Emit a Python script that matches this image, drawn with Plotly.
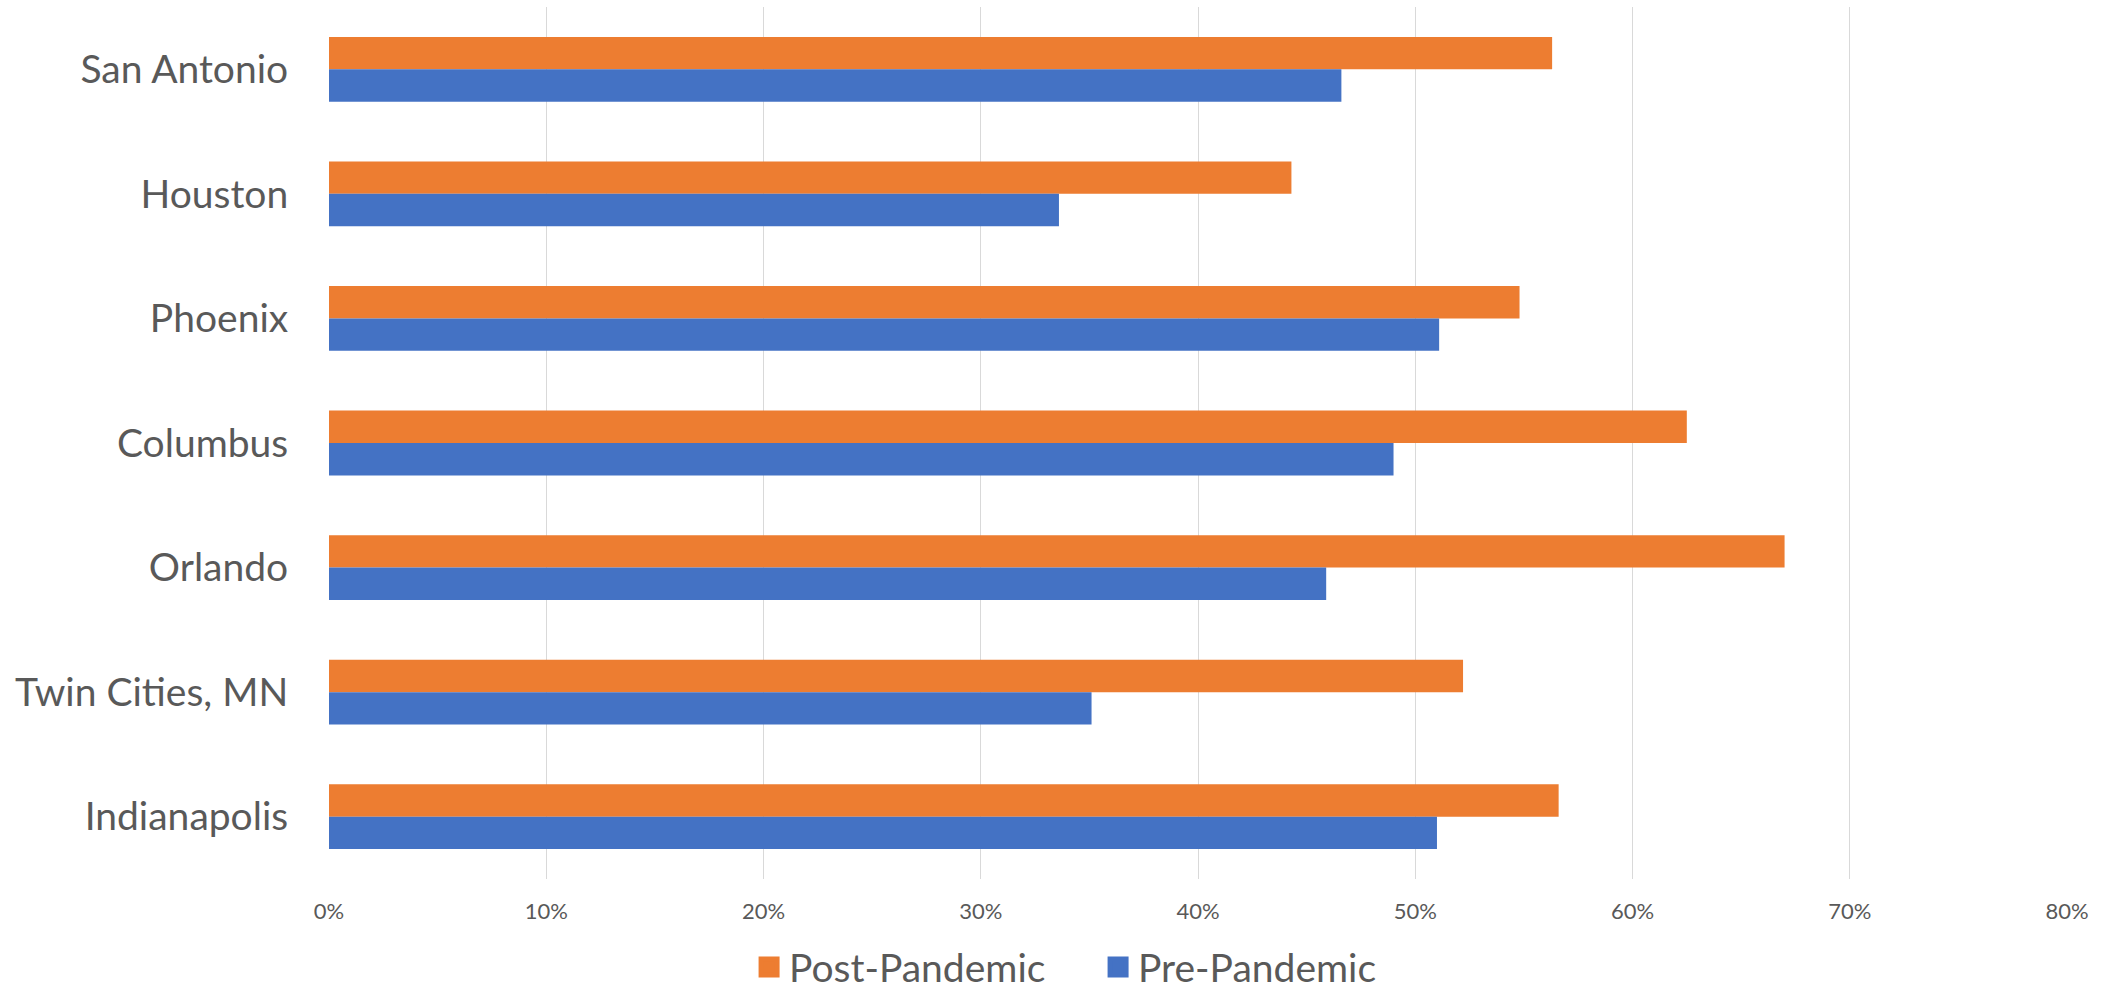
import plotly.graph_objects as go

# Share of respondents by metro area, before and after the pandemic
cities = ["San Antonio", "Houston", "Phoenix", "Columbus", "Orlando",
          "Twin Cities, MN", "Indianapolis"]
post_pandemic = [0.563, 0.443, 0.548, 0.625, 0.670, 0.522, 0.566]
pre_pandemic = [0.466, 0.336, 0.511, 0.490, 0.459, 0.351, 0.510]
x_ticks = [0, 0.1, 0.2, 0.3, 0.4, 0.5, 0.6, 0.7, 0.8]
series_names = ["Post-Pandemic", "Pre-Pandemic"]

ORANGE = "#ED7D31"
BLUE = "#4472C4"
GRID = "#D9D9D9"
TEXT = "#595959"
FONT = "Lato, 'Open Sans', sans-serif"

fig = go.Figure()
for name, values, color in zip(series_names, [post_pandemic, pre_pandemic],
                               [ORANGE, BLUE]):
    fig.add_trace(go.Bar(
        y=cities, x=values, orientation="h", name=name,
        marker=dict(color=color, line=dict(width=0)),
        showlegend=False,
    ))
    # larger square swatch for the legend entry
    fig.add_trace(go.Scatter(
        x=[None], y=[None], mode="markers", name=name,
        marker=dict(symbol="square", size=16, color=color,
                    line=dict(color=color, width=5)),
        showlegend=True,
    ))

fig.update_layout(
    width=2108, height=991,
    margin=dict(l=329, r=41, t=7, b=112, autoexpand=False),
    paper_bgcolor="white", plot_bgcolor="white",
    barmode="group", bargap=0.48, bargroupgap=0,
    font=dict(family=FONT, color=TEXT),
    showlegend=True,
    legend=dict(
        orientation="h", x=0.2417, xanchor="left", y=-0.101, yanchor="middle",
        font=dict(size=39, color=TEXT, family=FONT),
        traceorder="normal", itemsizing="trace",
        entrywidth=304, entrywidthmode="pixels",
    ),
)
fig.update_xaxes(
    range=[0, 0.8], tickvals=x_ticks, tickformat=".0%",
    showgrid=True, gridcolor=GRID, gridwidth=1.3,
    zeroline=False, showline=False,
    tickfont=dict(size=22, color=TEXT, family=FONT),
    ticks="outside", ticklen=13, tickcolor="rgba(0,0,0,0)",
)
fig.update_yaxes(
    autorange="reversed", showgrid=False, zeroline=False,
    showline=False,
    tickfont=dict(size=39, color=TEXT, family=FONT),
    ticks="outside", ticklen=32, tickcolor="rgba(0,0,0,0)",
)

fig.write_html("out.html")
